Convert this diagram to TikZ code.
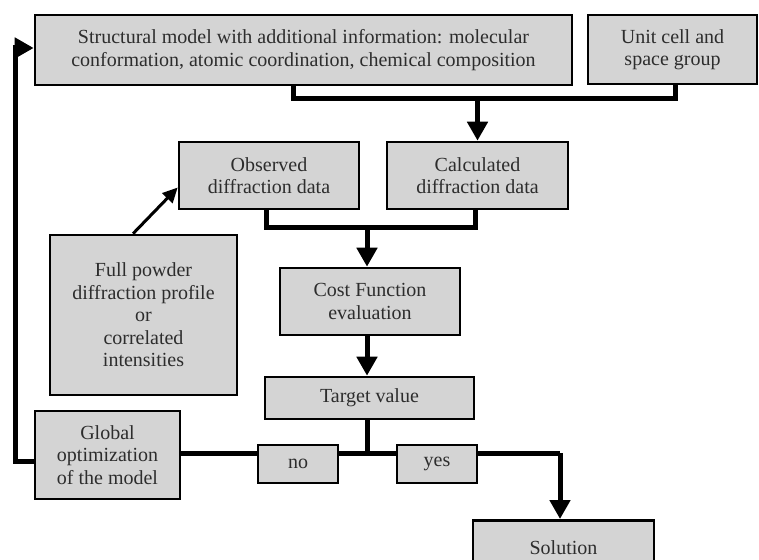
\documentclass[tikz,border=0pt]{standalone}
\usepackage{fontspec}
\setmainfont{Liberation Serif}
\usetikzlibrary{arrows.meta}
\definecolor{boxfill}{RGB}{212,212,212}
\definecolor{inktext}{RGB}{45,45,45}
\begin{document}
\begin{tikzpicture}[x=1pt,y=-1pt,
  box/.style={draw=black, line width=2.6pt, fill=boxfill, inner sep=0pt,
    align=center, text=inktext, font=\fontsize{20}{22.5}\selectfont},
  wire/.style={line width=5pt, line join=miter},
  arr/.style={wire, -{Triangle[length=19pt,width=20pt]}},
  thinarr/.style={line width=3pt, -{Triangle[length=15pt,width=14pt]}}]
\useasboundingbox (0,0) rectangle (759,559);

% boxes
\node[box, minimum width=537pt, minimum height=70pt] (main) at (303.5,50)
  {Structural model with additional information: molecular\\conformation, atomic coordination, chemical composition};
\node[box, minimum width=169pt, minimum height=69pt] (unit) at (672.5,49.5)
  {Unit cell and\\space group};
\node[box, minimum width=180pt, minimum height=67pt] (obs) at (269,175.5)
  {Observed\\diffraction data};
\node[box, minimum width=181pt, minimum height=67pt] (calc) at (477.5,175.5)
  {Calculated\\diffraction data};
\node[box, minimum width=180pt, minimum height=67pt] (cost) at (370,301.5)
  {Cost Function\\evaluation};
\node[box, minimum width=209pt, minimum height=42pt] (target) at (369.5,398)
  {Target value};
\node[box, minimum width=187pt, minimum height=160pt] (powder) at (143.5,315)
  {Full powder\\diffraction profile\\or\\correlated\\intensities};
\node[box, minimum width=145pt, minimum height=88pt] (global) at (107.5,455)
  {Global\\optimization\\of the model};
\node[box, minimum width=181pt, minimum height=56pt, anchor=north] (sol) at (563.5,519)
  {\raisebox{2pt}{Solution}};

% junction points
\coordinate (m1) at (293,99);
\coordinate (u1) at (675,99);
\coordinate (o1) at (266,227);
\coordinate (c1) at (475,227);
\coordinate (k1) at (367,227);
\coordinate (t1) at (367,453);
\coordinate (s1) at (560,453);
\coordinate (f1) at (15,461);
\coordinate (f2) at (15,48);
\coordinate (p1) at (133,0);

% structural model + unit cell -> calculated data
\draw[wire] (main.south -| m1) -- (m1) -- (u1) -- (unit.south -| u1);
\draw[arr] (calc.north |- m1) -- (calc.north);

% observed + calculated -> cost function
\draw[wire] (obs.south -| o1) -- (o1) -- (c1) -- (calc.south -| c1);
\draw[arr] (k1) -- (cost.north -| k1);
\draw[arr] (cost.south -| k1) -- (target.north -| k1);

% powder data -> observed
\draw[thinarr] (powder.north -| p1) -- ([yshift=-12pt]obs.west);

% decision line
\draw[wire] (target.south -| t1) -- (t1);
\draw[wire] (global.east |- t1) -- (s1);
\draw[arr] (s1) -- (sol.north -| s1);

% feedback to the model
\draw[arr] (global.west |- f1) -- (f1) -- (f2) -- (main.west |- f2);

% branch labels over the line
\node[box, minimum width=80pt, minimum height=38pt] (no) at (298,464) {no};
\node[box, minimum width=80pt, minimum height=38pt] (yes) at (437,464) {yes};
\end{tikzpicture}
\end{document}
